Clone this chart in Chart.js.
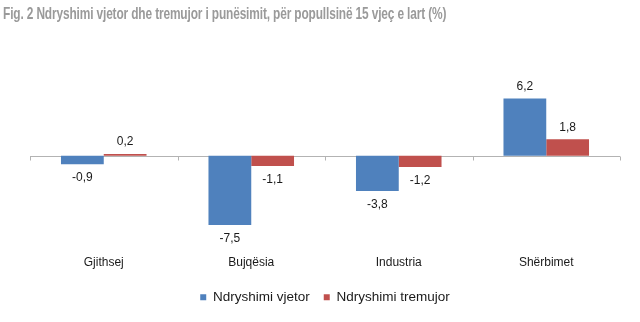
<!DOCTYPE html>
<html lang="sq">
<head>
  <meta charset="UTF-8" />
  <title>Ndryshimi i punësimit</title>
  <script src="https://cdn.jsdelivr.net/npm/chart.js"></script>
  <style>
    * { box-sizing: border-box; }
    html, body {
      margin: 0;
      padding: 0;
      background: #ffffff;
    }
    #wrap {
      width: 640px;
      height: 322px;
      position: relative;
    }
    #title {
      position: absolute;
      left: 3px;
      top: 4px;
      margin: 0;
      font-family: 'Liberation Sans', Arial, sans-serif;
      font-size: 17px;
      font-weight: bold;
      color: #9a9a9a;
      white-space: nowrap;
      transform: scaleX(0.7);
      transform-origin: left top;
      letter-spacing: -0.2px;
    }
    canvas { position: absolute; left: 0; top: 0; }
  </style>
</head>
<body>
  <div id="wrap">
    <canvas id="empChart" width="640" height="322"></canvas>
    <h1 id="title">Fig. 2 Ndryshimi vjetor dhe tremujor i punësimit, për popullsinë 15 vjeç e lart (%)</h1>
  </div>

  <script>
    const categories = ["Gjithsej", "Bujqësia", "Industria", "Shërbimet"];
    const annualChange = [-0.9, -7.5, -3.8, 6.2];
    const quarterlyChange = [0.2, -1.1, -1.2, 1.8];

    const fmt = v => v.toFixed(1).replace(".", ",");

    // zero line with short ticks between categories
    const zeroLine = {
      id: "zeroLine",
      beforeDatasetsDraw(chart) {
        const { ctx, scales: { x, y } } = chart;
        const y0 = Math.round(y.getPixelForValue(0)) + 0.5;
        ctx.save();
        ctx.strokeStyle = "#b3b3b3";
        ctx.lineWidth = 1;
        ctx.beginPath();
        ctx.moveTo(x.left, y0);
        ctx.lineTo(x.right, y0);
        for (let i = 0; i <= categories.length; i++) {
          const px = Math.round(x.left + (x.right - x.left) * i / categories.length) + 0.5;
          ctx.moveTo(px, y0);
          ctx.lineTo(px, y0 + 4);
        }
        ctx.stroke();
        ctx.restore();
      }
    };

    // value labels at the end of every bar
    const valueLabels = {
      id: "valueLabels",
      afterDatasetsDraw(chart) {
        const { ctx } = chart;
        ctx.save();
        ctx.font = "12px 'Liberation Sans', Arial, sans-serif";
        ctx.fillStyle = "#1a1a1a";
        ctx.textAlign = "center";
        ctx.textBaseline = "middle";
        chart.data.datasets.forEach((ds, di) => {
          chart.getDatasetMeta(di).data.forEach((bar, i) => {
            const v = ds.data[i];
            const off = v >= 0 ? -12 : 14;
            ctx.fillText(fmt(v), bar.x, bar.y + off);
          });
        });
        ctx.restore();
      }
    };

    new Chart(document.getElementById("empChart"), {
      type: "bar",
      data: {
        labels: categories,
        datasets: [
          {
            label: "Ndryshimi vjetor",
            data: annualChange,
            backgroundColor: "#4f81bd",
            categoryPercentage: 0.58,
            barPercentage: 1
          },
          {
            label: "Ndryshimi tremujor",
            data: quarterlyChange,
            backgroundColor: "#c0504d",
            categoryPercentage: 0.58,
            barPercentage: 1
          }
        ]
      },
      options: {
        responsive: false,
        animation: false,
        layout: {
          padding: { left: 30, right: 20, top: 82, bottom: 8 }
        },
        plugins: {
          legend: {
            position: "bottom",
            labels: {
              usePointStyle: true,
              pointStyle: "rect",
              boxWidth: 6,
              boxHeight: 6,
              padding: 14,
              color: "#1a1a1a",
              font: { family: "'Liberation Sans', Arial, sans-serif", size: 13.5 }
            }
          },
          tooltip: { enabled: false }
        },
        scales: {
          x: {
            grid: { display: false, drawTicks: false },
            border: { display: false },
            ticks: {
              padding: 7,
              color: "#1a1a1a",
              font: { family: "'Liberation Sans', Arial, sans-serif", size: 12 }
            }
          },
          y: {
            display: false,
            min: -10,
            max: 8
          }
        }
      },
      plugins: [zeroLine, valueLabels]
    });
  </script>
</body>
</html>
